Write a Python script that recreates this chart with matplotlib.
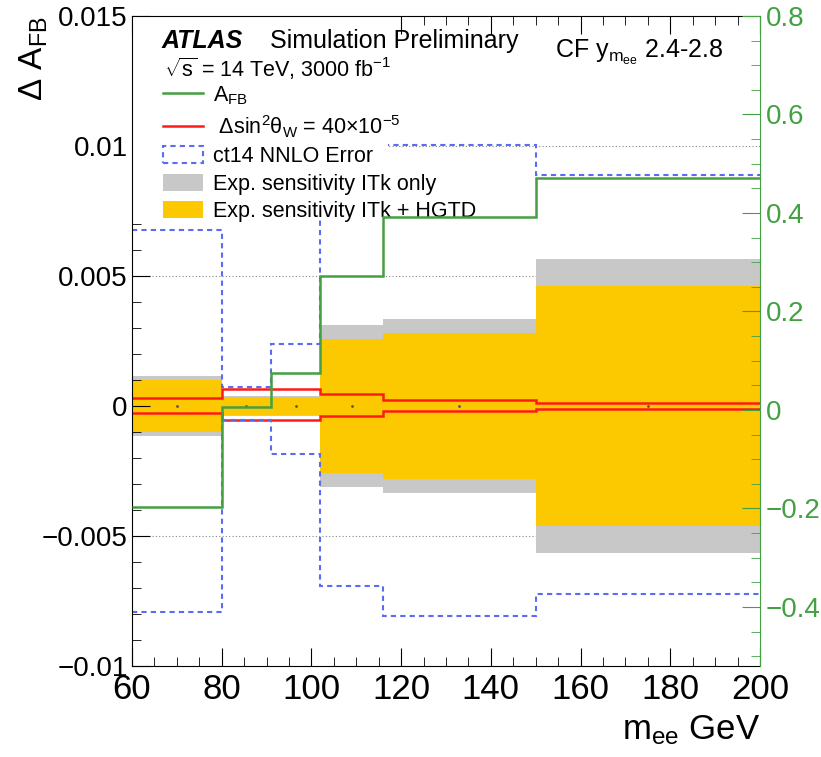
import numpy as np
import matplotlib
matplotlib.use("Agg")
import matplotlib.pyplot as plt
from matplotlib.ticker import MultipleLocator, FuncFormatter
from matplotlib.patches import Patch, Rectangle
from matplotlib.lines import Line2D

plt.rcParams['font.family'] = ['Liberation Sans', 'DejaVu Sans']
plt.rcParams['mathtext.fontset'] = 'custom'
plt.rcParams['mathtext.rm'] = 'Liberation Sans'
plt.rcParams['mathtext.it'] = 'Liberation Sans'
plt.rcParams['mathtext.default'] = 'regular'

# bin edges in m_ee (GeV)
edges = [60, 80, 91, 102, 116, 150, 200]
# A_FB (right axis)
afb = [-0.197, 0.006, 0.076, 0.272, 0.391, 0.471]
# experimental sensitivity half widths
itk_only = [0.00115, 0.00040, 0.00040, 0.00310, 0.00336, 0.00565]
itk_hgtd = [0.00100, 0.00035, 0.00035, 0.00258, 0.00282, 0.00462]
# delta sin2thetaW = 40e-5 shift
sw_up = [0.00032, 0.00064, 0.00064, 0.00045, 0.00023, 0.00013]
sw_dn = [-0.00026, -0.00054, -0.00054, -0.00038, -0.00018, -0.00010]
# ct14 NNLO PDF error
ct14_up = [0.00677, 0.00073, 0.00238, 0.01050, 0.01004, 0.00888]
ct14_dn = [-0.00792, -0.00055, -0.00185, -0.00692, -0.00808, -0.00723]

green = '#43a043'
red = '#ff1a1a'
blue = '#5a6cf2'
grey = '#c8c8c8'
yellow = '#fcc800'

fig = plt.figure(figsize=(8.21, 7.57), dpi=100)
ax = fig.add_axes([132/821, 1-666/757, 628/821, 650/757])

itk = np.array(itk_only)
hg = np.array(itk_hgtd)
ax.stairs(itk, edges, baseline=-itk, fill=True, color=grey, lw=0, zorder=1)
ax.stairs(hg, edges, baseline=-hg, fill=True, color=yellow, lw=0, zorder=1.1)

for v in [-0.005, 0, 0.005, 0.01]:
    ax.axhline(v, ls=(0, (1, 2)), color='#888888', lw=0.8, zorder=0.5)

centers = [(edges[i] + edges[i+1]) / 2 for i in range(len(edges) - 1)]
ax.plot(centers, np.zeros(len(centers)), ls='none', marker='.', ms=2, color='#555555', zorder=1.5)

ax.stairs(sw_up, edges, baseline=None, color=red, lw=1.8, zorder=1.8)
ax.stairs(sw_dn, edges, baseline=None, color=red, lw=1.8, zorder=1.8)
ax.stairs(ct14_up, edges, baseline=None, color=blue, lw=1.5, ls=(0, (2.5, 2)), zorder=1.9)
ax.stairs(ct14_dn, edges, baseline=None, color=blue, lw=1.5, ls=(0, (2.5, 2)), zorder=1.9)

ax.set_xlim(60, 200)
ax.set_ylim(-0.01, 0.015)
ax.xaxis.set_major_locator(MultipleLocator(20))
ax.xaxis.set_minor_locator(MultipleLocator(5))
ax.yaxis.set_major_locator(MultipleLocator(0.005))
ax.yaxis.set_minor_locator(MultipleLocator(0.001))
fmt = FuncFormatter(lambda v, p: f"{v:g}".replace('-', '\u2212') if abs(v) > 1e-12 else '0')
ax.yaxis.set_major_formatter(fmt)
ax.tick_params(axis='both', which='both', direction='in')
ax.tick_params(axis='y', which='major', length=13, labelsize=20, pad=3)
ax.tick_params(axis='y', which='minor', length=6.5)
ax.tick_params(axis='x', which='major', length=13, labelsize=25, pad=5, top=True)
ax.tick_params(axis='x', which='minor', length=6.5, top=True)
ax.spines['right'].set_visible(False)

ax.set_xlabel(r"m$_{ee}$ GeV", fontsize=25, loc='right')
ax.xaxis.set_label_coords(1.0, -0.072)
ax.set_ylabel(r"$\Delta$ A$_{FB}$", fontsize=24, loc='top')
ax.yaxis.set_label_coords(-0.13, 1.0)

# white legend box area
ax.add_patch(Rectangle((0, 0.689), 0.408, 0.311, transform=ax.transAxes,
                       facecolor='white', edgecolor='none', zorder=2.2))

ax2 = ax.twinx()
ax2.stairs(afb, edges, baseline=None, color=green, lw=1.8)
ax2.set_ylim(-0.52, 0.8)
ax2.yaxis.set_major_locator(MultipleLocator(0.2))
ax2.yaxis.set_minor_locator(MultipleLocator(0.05))
ax2.yaxis.set_major_formatter(fmt)
ax2.tick_params(axis='y', which='both', direction='in', colors=green)
ax2.tick_params(axis='y', which='major', length=13, labelsize=20, pad=4)
ax2.tick_params(axis='y', which='minor', length=6.5)
ax2.spines['right'].set_color(green)
ax2.spines['left'].set_visible(False)
ax2.spines['top'].set_visible(False)
ax2.spines['bottom'].set_visible(False)

handles = [
    Line2D([], [], color=green, lw=1.8),
    Line2D([], [], color=red, lw=1.8),
    Patch(facecolor='none', edgecolor=blue, ls=(0, (2.5, 2)), lw=1.5),
    Patch(facecolor=grey, edgecolor='none'),
    Patch(facecolor=yellow, edgecolor='none'),
]
labels = [
    r"A$_{FB}$",
    r" $\Delta sin^2\theta_W$ = 40$\times$10$^{-5}$",
    "ct14 NNLO Error",
    "Exp. sensitivity ITk only",
    "Exp. sensitivity ITk + HGTD",
]
leg = ax.legend(handles, labels, loc='upper left', bbox_to_anchor=(163/821, 1-84/757),
                bbox_transform=fig.transFigure, frameon=False, fontsize=15.5,
                handlelength=1.85, handleheight=0.85, labelspacing=0.3,
                handletextpad=0.45, borderpad=0, borderaxespad=0)
leg.set_zorder(5)

fig.text(162/821, 1-48/757, "ATLAS", fontsize=18, fontweight='bold', fontstyle='italic', va='baseline')
fig.text(270/821, 1-48/757, "Simulation Preliminary", fontsize=18, va='baseline')
fig.text(164/821, 1-77/757, r"$\sqrt{s}$ = 14 TeV, 3000 fb$^{-1}$", fontsize=15.5, va='baseline')
fig.text(555/821, 1-58/757, r"CF y$_{m_{ee}}$ 2.4-2.8", fontsize=18, va='baseline')

fig.savefig("out.png", dpi=100)
